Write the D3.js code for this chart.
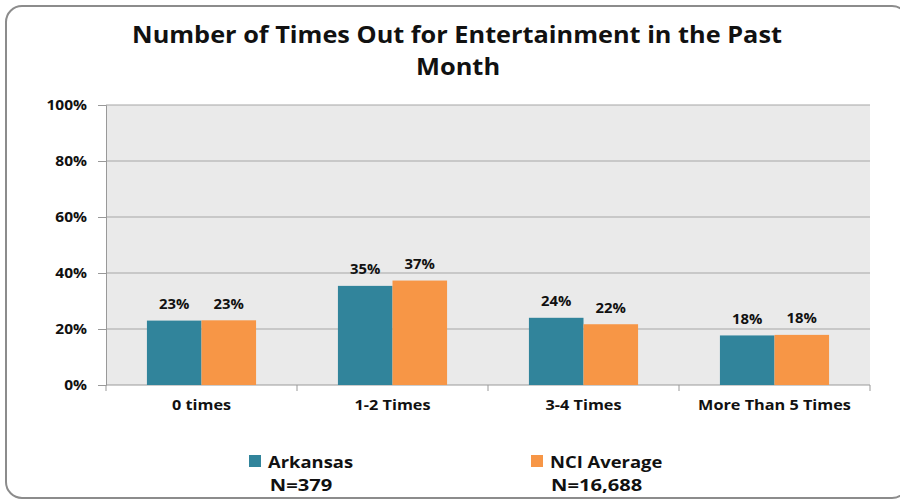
<!DOCTYPE html>
<html><head><meta charset="utf-8">
<script src="https://cdn.jsdelivr.net/npm/d3@7"></script>
<style>body{margin:0;background:#fff}svg{display:block}text{font-family:"Open Sans",sans-serif;font-weight:bold;fill:#111}</style>
</head><body><svg id="c" width="900" height="501"></svg>
<script>
const categories = ["0 times","1-2 Times","3-4 Times","More Than 5 Times"];
const seriesNames = ["Arkansas","NCI Average"];
const seriesN = ["N=379","N=16,688"];
const arkansas = [23,35.4,24,17.7];
const nci = [23.1,37.3,21.7,17.9];
const arkansasLabels = ["23%","35%","24%","18%"];
const nciLabels = ["23%","37%","22%","18%"];
const yTicks = [0,20,40,60,80,100];
const colors = ["#31849B","#F79646"];

const svg = d3.select("#c");
svg.append("rect").attr("x",6).attr("y",6).attr("width",902).attr("height",492).attr("rx",16)
  .attr("fill","#fff").attr("stroke","#8c8c8c").attr("stroke-width",2);

// stretched text helper
function st(g, x, y, txt, size, sx, anchor){
  return g.append("text").attr("transform",`translate(${x},${y}) scale(${sx},1)`)
    .attr("text-anchor",anchor||"middle").attr("font-size",size).text(txt);
}

const m = {l:106,r:870,t:105,b:385};
const x = d3.scaleBand().domain(categories).range([m.l,m.r]).paddingInner(0).paddingOuter(0);
const xs = d3.scaleBand().domain(seriesNames).range([0,x.bandwidth()]).paddingInner(0).paddingOuter(0.75);
const y = d3.scaleLinear().domain([0,100]).range([m.b,m.t]);

svg.append("rect").attr("x",m.l).attr("y",m.t).attr("width",m.r-m.l).attr("height",m.b-m.t).attr("fill","#EAEAEA");
svg.append("g").selectAll("line").data(yTicks.filter(d=>d>0)).join("line")
  .attr("x1",m.l).attr("x2",m.r).attr("y1",d=>y(d)).attr("y2",d=>y(d)).attr("stroke","#A6A6A6").attr("stroke-width",1.2);

const yAxis = svg.append("g").attr("transform",`translate(${m.l},0)`)
  .call(d3.axisLeft(y).tickValues(yTicks).tickFormat("").tickSize(8));
yAxis.select(".domain").attr("stroke","#999");
yAxis.selectAll(".tick line").attr("stroke","#999");
const yl = svg.append("g");
yTicks.forEach(t=>st(yl, 87, y(t)+4.5, t+"%", 13.5, 1.15, "end"));

const xb = svg.append("g").attr("transform",`translate(0,${m.b})`);
xb.append("line").attr("x1",m.l).attr("x2",m.r).attr("stroke","#999").attr("stroke-width",1.2);
xb.selectAll("line.t").data(d3.range(categories.length+1)).join("line").attr("class","t")
  .attr("x1",i=>m.l+i*x.step()).attr("x2",i=>m.l+i*x.step()).attr("y1",0).attr("y2",6).attr("stroke","#999");
categories.forEach(c=>st(xb, x(c)+x.bandwidth()/2, 25, c, 14, 1.16));

const series = [arkansas,nci];
const labels = [arkansasLabels,nciLabels];
series.forEach((vals,si)=>{
  const g = svg.append("g");
  g.selectAll("rect").data(vals).join("rect")
    .attr("x",(d,i)=>x(categories[i])+xs(seriesNames[si])).attr("width",xs.bandwidth())
    .attr("y",d=>y(d)).attr("height",d=>y(0)-y(d)).attr("fill",colors[si]);
  vals.forEach((d,i)=>st(g, x(categories[i])+xs(seriesNames[si])+xs.bandwidth()/2, y(d)-11.5, labels[si][i], 13.5, 1.1));
});

st(svg, 457, 43, "Number of Times Out for Entertainment in the Past", 22.5, 1.125);
st(svg, 458, 75, "Month", 22.5, 1.13);

const legX = [249,531];
seriesNames.forEach((s,i)=>{
  svg.append("rect").attr("x",legX[i]).attr("y",455).attr("width",12).attr("height",12).attr("fill",colors[i]);
  const t = st(svg, legX[i]+19, 467.5, s, 16, 1.15, "start");
  const w = t.node().getComputedTextLength()*1.15;
  st(svg, legX[i]+(19+w)/2, 490.5, seriesN[i], 16, 1.26);
});
</script></body></html>
